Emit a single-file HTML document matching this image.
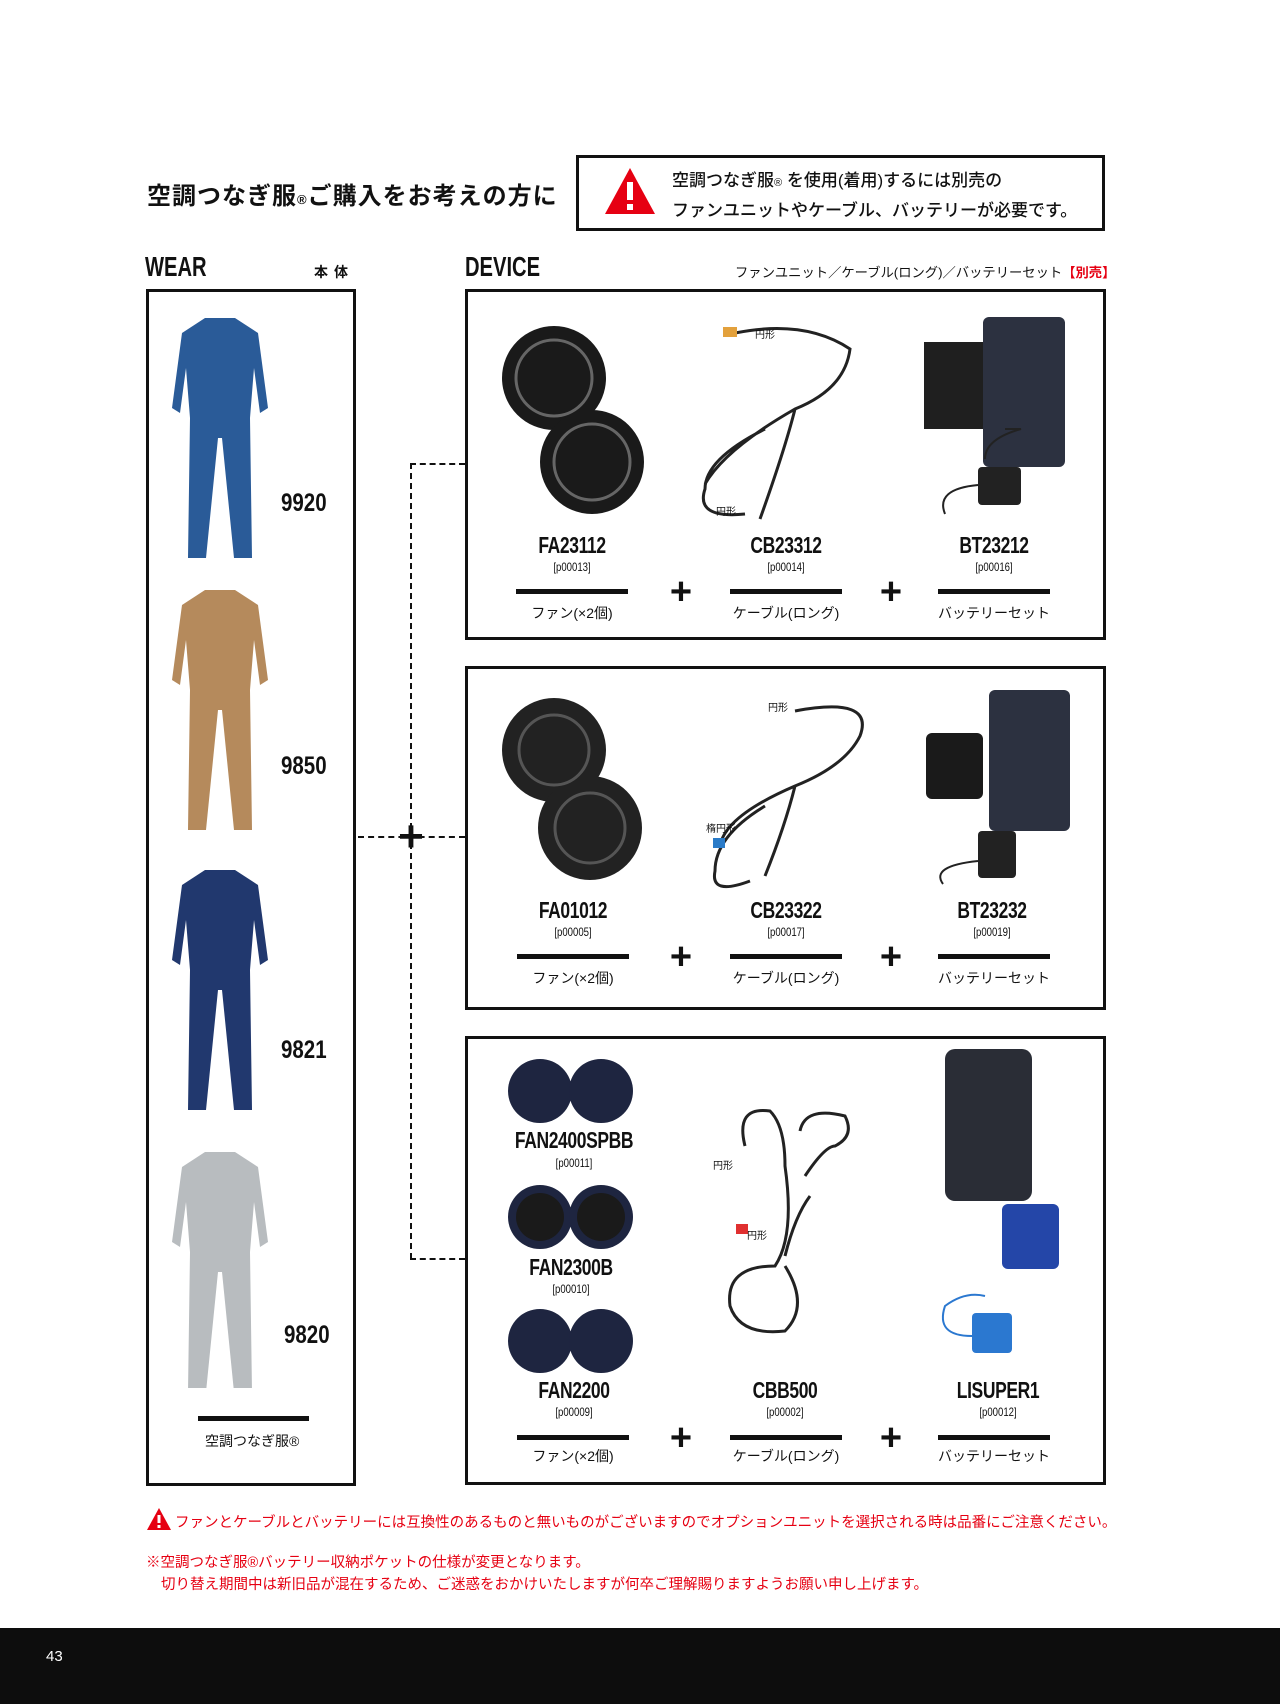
<!DOCTYPE html>
<html><head><meta charset="utf-8"><style>
*{margin:0;padding:0;box-sizing:border-box}
body{width:1280px;height:1704px;background:#fff;position:relative;overflow:hidden;font-family:"Liberation Sans","Noto Sans CJK JP",sans-serif;color:#111}
.a{position:absolute}
.box{position:absolute;border:3px solid #111}
.code{position:absolute;font-weight:bold;font-size:23px;transform:translateX(-50%) scaleX(.76);white-space:nowrap;letter-spacing:-0.5px}
.ref{position:absolute;font-size:12px;transform:translateX(-50%) scaleX(.8);white-space:nowrap}
.bar{position:absolute;height:5px;width:112px;background:#111;transform:translateX(-50%)}
.lab{position:absolute;font-size:14px;transform:translateX(-50%);white-space:nowrap}
.plus{position:absolute;font-size:38px;font-weight:bold;transform:translate(-50%,-50%);line-height:1}
.num{position:absolute;font-weight:bold;font-size:25px;transform:scaleX(.82);transform-origin:left}
.dh{position:absolute;border-top:2px dashed #111;height:0}
.dv{position:absolute;border-left:2px dashed #111;width:0}
.small{position:absolute;font-size:10px}
.hd{position:absolute;font-size:28px;font-weight:bold;transform:scaleX(.72);transform-origin:left}
</style></head><body>

<div class="a" style="left:147px;top:176px;font-size:24px;font-weight:bold;letter-spacing:1px">空調つなぎ服<span style="font-size:13px">®</span>ご購入をお考えの方に</div>
<div class="box" style="left:576px;top:155px;width:529px;height:76px"></div>
<svg class="a" style="left:603px;top:166px" width="54" height="50"><polygon points="27,2 52,48 2,48" fill="#e60012"/><rect x="24" y="16" width="6" height="18" fill="#fff"/><rect x="24" y="38" width="6" height="6" fill="#fff"/></svg>
<div class="a" style="left:672px;top:167px;font-size:17px;line-height:27px;font-weight:500">空調つなぎ服<span style="font-size:11px">®</span> を使用(着用)するには別売の<br>ファンユニットやケーブル、バッテリーが必要です。</div>

<div class="hd" style="left:145px;top:251px">WEAR</div>
<div class="a" style="left:314px;top:262px;font-size:14px;font-weight:bold;letter-spacing:6px">本体</div>
<div class="hd" style="left:465px;top:251px">DEVICE</div>
<div class="a" style="left:735px;top:262px;font-size:13.3px">ファンユニット／ケーブル(ロング)／バッテリーセット<span style="color:#e60012;font-weight:bold">【別売】</span></div>

<div class="box" style="left:146px;top:289px;width:210px;height:1197px"></div>
<div class="box" style="left:465px;top:289px;width:641px;height:351px"></div>
<div class="box" style="left:465px;top:666px;width:641px;height:344px"></div>
<div class="box" style="left:465px;top:1036px;width:641px;height:449px"></div>

<div class="dv" style="left:410px;top:463px;height:796px"></div>
<div class="dh" style="left:410px;top:463px;width:55px"></div>
<div class="dh" style="left:358px;top:836px;width:107px"></div>
<div class="dh" style="left:410px;top:1258px;width:55px"></div>
<div class="plus" style="left:411px;top:837px;font-size:44px">+</div>

<svg class="a" style="left:170px;top:318px" width="100" height="1070" viewBox="0 0 100 1070">
<defs><path id="suit" d="M35,0 L65,0 L88,15 L98,90 L90,95 L84,50 L80,100 L82,240 L64,240 L52,120 L48,120 L36,240 L18,240 L20,100 L16,50 L10,95 L2,90 L12,15 Z"/></defs>
<use href="#suit" fill="#2a5b98"/>
<use href="#suit" y="272" fill="#b58a5c"/>
<use href="#suit" y="552" fill="#21386e"/>
<use href="#suit" y="834" fill="#b8bcbf"/>
</svg>
<div class="num" style="left:281px;top:489px">9920</div>
<div class="num" style="left:281px;top:752px">9850</div>
<div class="num" style="left:281px;top:1036px">9821</div>
<div class="num" style="left:284px;top:1321px">9820</div>
<div class="a" style="left:198px;top:1416px;width:111px;height:5px;background:#111"></div>
<div class="a" style="left:205px;top:1431px;font-size:14px">空調つなぎ服®</div>

<svg class="a" style="left:465px;top:289px" width="641" height="350">
<g fill="#1a1a1a"><circle cx="89" cy="89" r="52"/><circle cx="127" cy="173" r="52"/></g>
<g fill="none" stroke="#666" stroke-width="3"><circle cx="89" cy="89" r="38"/><circle cx="127" cy="173" r="38"/></g>
<path d="M270,44 Q340,30 385,60 Q380,100 330,120 Q260,160 240,195 M330,120 Q320,160 295,230 M300,140 Q240,170 240,200 Q230,230 280,225" fill="none" stroke="#222" stroke-width="3"/>
<rect x="258" y="38" width="14" height="10" fill="#e3a13c"/>
<rect x="518" y="28" width="82" height="150" rx="6" fill="#2c3140"/>
<rect x="459" y="53" width="59" height="87" fill="#1f1f1f"/>
<rect x="513" y="178" width="43" height="38" rx="4" fill="#222"/>
<path d="M513,196 Q470,200 480,225 M540,140 L556,140 Q520,150 520,170" fill="none" stroke="#222" stroke-width="2"/>
</svg>
<div class="small" style="left:755px;top:326px">円形</div>
<div class="small" style="left:716px;top:503px">円形</div>

<svg class="a" style="left:465px;top:666px" width="641" height="344">
<g fill="#222"><circle cx="89" cy="84" r="52"/><circle cx="125" cy="162" r="52"/></g>
<g fill="none" stroke="#555" stroke-width="3"><circle cx="89" cy="84" r="35"/><circle cx="125" cy="162" r="35"/></g>
<path d="M330,45 Q410,30 395,70 Q380,100 330,120 Q260,150 255,180 M330,120 Q320,160 300,210 M300,140 Q250,170 250,205 Q245,230 285,215" fill="none" stroke="#222" stroke-width="3"/>
<rect x="248" y="172" width="12" height="10" fill="#2a7bc8"/>
<rect x="524" y="24" width="81" height="141" rx="6" fill="#2c3140"/>
<rect x="461" y="67" width="57" height="66" rx="6" fill="#1a1a1a"/>
<rect x="513" y="165" width="38" height="47" rx="4" fill="#222"/>
<path d="M513,195 Q465,200 478,218" fill="none" stroke="#222" stroke-width="2"/>
</svg>
<div class="small" style="left:768px;top:699px">円形</div>
<div class="small" style="left:706px;top:820px">楕円形</div>

<svg class="a" style="left:465px;top:1036px" width="641" height="449">
<g fill="#1e2540"><circle cx="75" cy="55" r="32"/><circle cx="136" cy="55" r="32"/><circle cx="75" cy="181" r="32"/><circle cx="136" cy="181" r="32"/><circle cx="75" cy="305" r="32"/><circle cx="136" cy="305" r="32"/></g>
<g fill="#1a1a1a"><circle cx="75" cy="181" r="24"/><circle cx="136" cy="181" r="24"/></g>
<path d="M280,110 Q270,70 305,75 Q320,90 320,130 Q330,200 310,230 Q260,230 265,270 Q275,300 320,295 Q345,270 320,230 M340,140 Q360,110 370,110 Q390,100 380,80 Q340,70 335,95 M320,220 Q330,180 345,160" fill="none" stroke="#222" stroke-width="3"/>
<rect x="271" y="188" width="12" height="10" fill="#e03030"/>
<rect x="480" y="13" width="87" height="152" rx="10" fill="#2a2d36"/>
<rect x="537" y="168" width="57" height="65" rx="6" fill="#2446a8"/>
<rect x="507" y="277" width="40" height="40" rx="4" fill="#2b78d0"/>
<path d="M507,300 Q470,300 480,270 Q500,255 520,260" fill="none" stroke="#2b78d0" stroke-width="2"/>
</svg>
<div class="small" style="left:713px;top:1157px">円形</div>
<div class="small" style="left:747px;top:1227px">円形</div>

<div class="code" style="left:572px;top:532px">FA23112</div><div class="ref" style="left:572px;top:560px">[p00013]</div>
<div class="code" style="left:786px;top:532px">CB23312</div><div class="ref" style="left:786px;top:560px">[p00014]</div>
<div class="code" style="left:994px;top:532px">BT23212</div><div class="ref" style="left:994px;top:560px">[p00016]</div>
<div class="bar" style="left:572px;top:589px"></div><div class="bar" style="left:786px;top:589px"></div><div class="bar" style="left:994px;top:589px"></div>
<div class="lab" style="left:572px;top:603px">ファン(×2個)</div><div class="lab" style="left:786px;top:603px">ケーブル(ロング)</div><div class="lab" style="left:994px;top:603px">バッテリーセット</div>
<div class="plus" style="left:681px;top:592px">+</div><div class="plus" style="left:891px;top:592px">+</div>

<div class="code" style="left:573px;top:897px">FA01012</div><div class="ref" style="left:573px;top:925px">[p00005]</div>
<div class="code" style="left:786px;top:897px">CB23322</div><div class="ref" style="left:786px;top:925px">[p00017]</div>
<div class="code" style="left:992px;top:897px">BT23232</div><div class="ref" style="left:992px;top:925px">[p00019]</div>
<div class="bar" style="left:573px;top:954px"></div><div class="bar" style="left:786px;top:954px"></div><div class="bar" style="left:994px;top:954px"></div>
<div class="lab" style="left:573px;top:968px">ファン(×2個)</div><div class="lab" style="left:786px;top:968px">ケーブル(ロング)</div><div class="lab" style="left:994px;top:968px">バッテリーセット</div>
<div class="plus" style="left:681px;top:957px">+</div><div class="plus" style="left:891px;top:957px">+</div>

<div class="code" style="left:574px;top:1127px">FAN2400SPBB</div><div class="ref" style="left:574px;top:1156px">[p00011]</div>
<div class="code" style="left:571px;top:1254px">FAN2300B</div><div class="ref" style="left:571px;top:1282px">[p00010]</div>
<div class="code" style="left:574px;top:1377px">FAN2200</div><div class="ref" style="left:574px;top:1405px">[p00009]</div>
<div class="code" style="left:785px;top:1377px">CBB500</div><div class="ref" style="left:785px;top:1405px">[p00002]</div>
<div class="code" style="left:998px;top:1377px">LISUPER1</div><div class="ref" style="left:998px;top:1405px">[p00012]</div>
<div class="bar" style="left:573px;top:1435px"></div><div class="bar" style="left:786px;top:1435px"></div><div class="bar" style="left:994px;top:1435px"></div>
<div class="lab" style="left:573px;top:1446px">ファン(×2個)</div><div class="lab" style="left:786px;top:1446px">ケーブル(ロング)</div><div class="lab" style="left:994px;top:1446px">バッテリーセット</div>
<div class="plus" style="left:681px;top:1438px">+</div><div class="plus" style="left:891px;top:1438px">+</div>

<svg class="a" style="left:146px;top:1507px" width="26" height="24"><polygon points="13,1 25,23 1,23" fill="#e60012"/><rect x="11.5" y="8" width="3" height="8" fill="#fff"/><rect x="11.5" y="18" width="3" height="3" fill="#fff"/></svg>
<div class="a" style="left:175px;top:1511px;font-size:14.5px;color:#e60012;white-space:nowrap">ファンとケーブルとバッテリーには互換性のあるものと無いものがございますのでオプションユニットを選択される時は品番にご注意ください。</div>
<div class="a" style="left:146px;top:1551px;font-size:14.5px;color:#e60012;white-space:nowrap">※空調つなぎ服®バッテリー収納ポケットの仕様が変更となります。</div>
<div class="a" style="left:161px;top:1573px;font-size:14.5px;color:#e60012;white-space:nowrap">切り替え期間中は新旧品が混在するため、ご迷惑をおかけいたしますが何卒ご理解賜りますようお願い申し上げます。</div>

<div class="a" style="left:0;top:1628px;width:1280px;height:76px;background:#0d0d0d"></div>
<div class="a" style="left:46px;top:1648px;font-size:15px;color:#fff">43</div>
</body></html>
